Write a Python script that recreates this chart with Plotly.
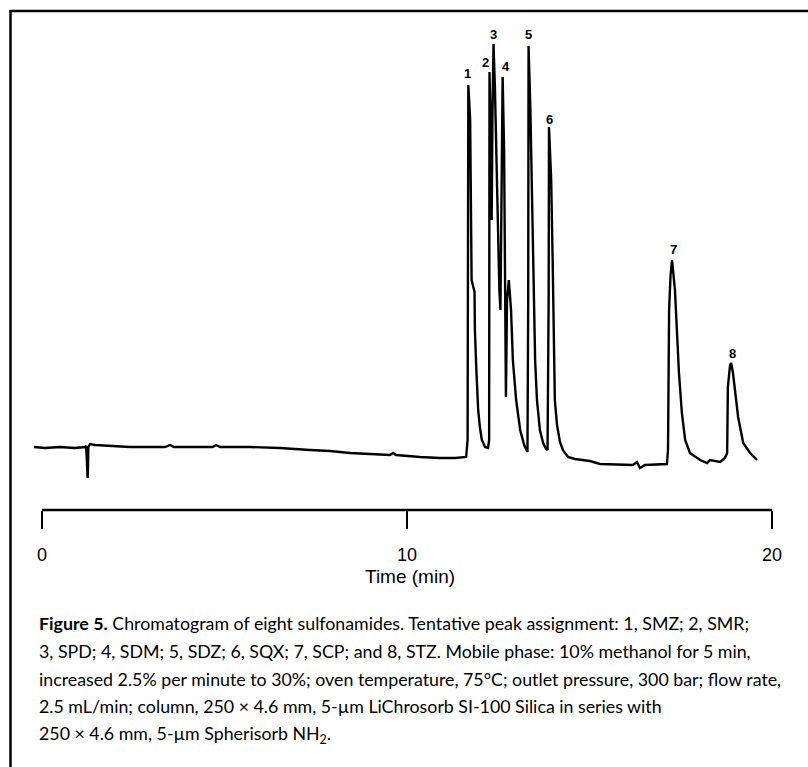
import plotly.graph_objects as go

# ---------------- data ----------------
time_min = [
    -0.22, 0.08, 0.49, 0.90, 1.18, 1.21, 1.23, 1.25, 1.26, 1.27, 1.32, 1.45, 1.86, 2.41, 2.96,
    3.37, 3.51, 3.62, 4.19, 4.68, 4.77, 4.88, 5.70, 6.52, 7.34, 7.89, 8.44, 8.99, 9.53, 9.62,
    9.70, 10.36, 10.90, 11.32, 11.62,
    # peak 1
    11.66, 11.67, 11.68, 11.73, 11.75, 11.77, 11.85, 11.86, 11.90, 11.95, 12.00, 12.05, 12.14, 12.22,
    # peaks 2-4
    12.25, 12.26, 12.29, 12.30, 12.32, 12.34, 12.37, 12.41, 12.45, 12.49, 12.53, 12.56,
    12.59, 12.62, 12.66, 12.68, 12.71, 12.74, 12.79, 12.85, 12.90, 12.99, 13.10, 13.21, 13.30,
    # peak 5
    13.32, 13.33, 13.38, 13.42, 13.45, 13.48, 13.51, 13.56, 13.64, 13.73, 13.81, 13.85,
    # peak 6
    13.88, 13.89, 13.95, 13.99, 14.03, 14.05, 14.11, 14.19, 14.27, 14.41, 14.60, 14.88, 15.01,
    15.29, 15.84, 16.19, 16.30, 16.38, 16.52, 17.12,
    # peak 7
    17.15, 17.18, 17.22, 17.26, 17.34, 17.40, 17.45, 17.53, 17.62, 17.75, 18.03, 18.22, 18.30,
    18.58, 18.71,
    # peak 8
    18.77, 18.79, 18.85, 18.88, 18.93, 18.99, 19.07, 19.21, 19.40, 19.59,
]
signal = [
    63, 62, 63, 62, 63, 64, 50, 32, 40, 63, 66, 65, 64, 63, 63,
    63, 65, 63, 63, 63, 65, 63, 63, 62, 60, 59, 57, 56, 55, 57,
    55, 53, 52, 52, 53,
    70, 210, 425, 390, 310, 230, 218, 180, 140, 100, 82, 70, 63, 62,
    70, 438, 390, 330, 290, 390, 466, 420, 350, 280, 220, 200,
    310, 433, 360, 250, 113, 210, 230, 200, 150, 110, 80, 65, 58,
    210, 464, 400, 310, 240, 190, 150, 110, 80, 67, 61, 60,
    210, 383, 330, 250, 170, 110, 85, 68, 60, 53, 51, 50, 49,
    46, 45, 45, 48, 42, 45, 46,
    60, 200, 235, 250, 220, 173, 137, 97, 70, 57, 50, 47, 50,
    48, 52,
    57, 123, 145, 147, 137, 117, 93, 67, 57, 50,
]

peak_labels = ["1", "2", "3", "4", "5", "6", "7", "8"]
peak_label_time = [11.67, 12.14, 12.38, 12.71, 13.32, 13.89, 17.29, 18.93]
peak_label_signal = [437, 448, 476, 444, 476, 391, 261, 157]

tick_values = [0, 10, 20]
tick_text = ["0", "10", "20"]
x_title = "Time (min)"

caption_lines = [
    "<b>Figure 5.</b> Chromatogram of eight sulfonamides. Tentative peak assignment: 1, SMZ; 2, SMR;",
    "3, SPD; 4, SDM; 5, SDZ; 6, SQX; 7, SCP; and 8, STZ. Mobile phase: 10% methanol for 5 min,",
    "increased 2.5% per minute to 30%; oven temperature, 75°C; outlet pressure, 300 bar; flow rate,",
    "2.5 mL/min; column, 250 × 4.6 mm, 5-µm LiChrosorb SI-100 Silica in series with",
    "250 × 4.6 mm, 5-µm Spherisorb NH<sub>2</sub>.",
]

# ---------------- layout helpers (pixel -> paper) ----------------
W, H = 808, 767
ML, MR, MT, MB = 31, 25, 10, 257
PW = W - ML - MR
PH = H - MT - MB


def px(p):
    return (p - ML) / PW


def py(p):
    return (H - MB - p) / PH


fig = go.Figure()
fig.add_trace(go.Scatter(
    x=time_min, y=signal, mode="lines",
    line=dict(color="black", width=2.4),
    hoverinfo="skip", showlegend=False,
))

annotations = []
for lab, t, s in zip(peak_labels, peak_label_time, peak_label_signal):
    annotations.append(dict(
        x=t, y=s, xref="x", yref="y", text=f"<b>{lab}</b>", showarrow=False,
        font=dict(family="Liberation Sans, Arial", size=13, color="black"),
        xanchor="center", yanchor="middle",
    ))

annotations.append(dict(
    x=10.08, y=py(576), xref="x", yref="paper", text=x_title, showarrow=False,
    font=dict(family="Liberation Sans, Arial", size=19, color="black"),
    xanchor="center", yanchor="middle",
))

caption_y = [623, 651, 679, 706, 734]
for line, yy in zip(caption_lines, caption_y):
    annotations.append(dict(
        x=px(37), y=py(yy), xref="paper", yref="paper", text=line, showarrow=False,
        font=dict(family="Lato", size=17.8, color="black"),
        xanchor="left", yanchor="middle", align="left",
    ))

shapes = [
    # x-axis line between first and last tick
    dict(type="line", xref="x", yref="paper", x0=0, x1=20, y0=0, y1=0,
         line=dict(color="black", width=2.5)),
    # figure frame (top and left)
    dict(type="line", xref="paper", yref="paper", x0=px(10), x1=px(W + 5), y0=py(11), y1=py(11),
         line=dict(color="black", width=2.5)),
    dict(type="line", xref="paper", yref="paper", x0=px(10.5), x1=px(10.5), y0=py(10), y1=py(H + 5),
         line=dict(color="black", width=2.5)),
]

fig.update_layout(
    width=W, height=H,
    margin=dict(l=ML, r=MR, t=MT, b=MB),
    paper_bgcolor="white", plot_bgcolor="white",
    xaxis=dict(
        range=[-0.3, 20.3], tickvals=tick_values, ticktext=tick_text,
        ticks="outside", ticklen=18, tickwidth=2, tickcolor="black",
        showline=False, showgrid=False, zeroline=False,
        tickfont=dict(family="Liberation Sans, Arial", size=18, color="black"),
        ticklabelstandoff=10,
    ),
    yaxis=dict(range=[0, 500], visible=False),
    annotations=annotations,
    shapes=shapes,
)

fig.write_html("out.html")
